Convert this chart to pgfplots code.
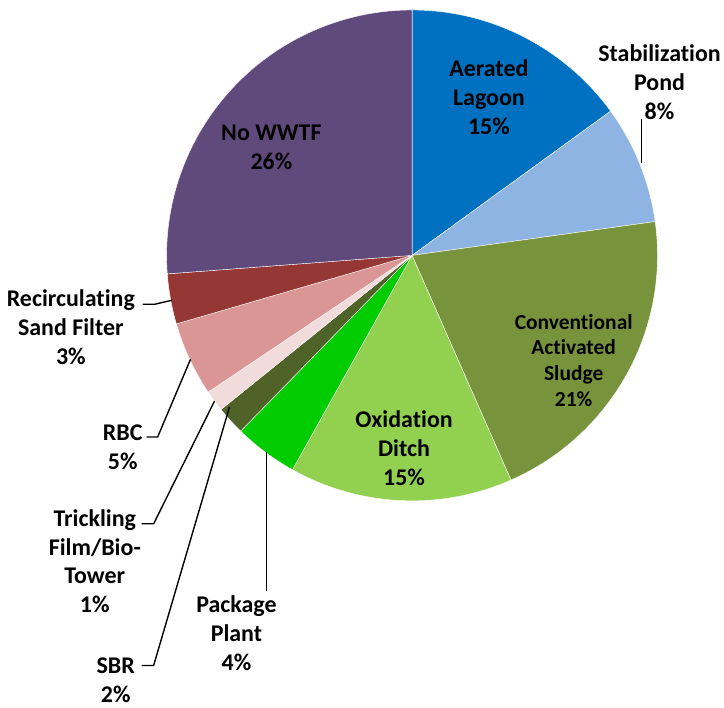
\documentclass[border=0pt]{standalone}
\usepackage{pgfplots}
\usepackage{pgfplotstable}
\pgfplotsset{compat=1.18}
\usepackage{fontspec}
\setmainfont{Carlito}[Ligatures=NoCommon]

\definecolor{cAL}{HTML}{0070C0}
\definecolor{cSP}{HTML}{8EB4E3}
\definecolor{cCAS}{HTML}{77933C}
\definecolor{cOD}{HTML}{92D050}
\definecolor{cPP}{HTML}{00CC00}
\definecolor{cSBR}{HTML}{4F6228}
\definecolor{cTF}{HTML}{F2DCDB}
\definecolor{cRBC}{HTML}{D99694}
\definecolor{cRSF}{HTML}{953735}
\definecolor{cNo}{HTML}{604A7B}

% share of each treatment type, clockwise from 12 o'clock
\pgfplotstableread[col sep=comma]{
value,color
15.0,cAL
7.8,cSP
20.6,cCAS
14.7,cOD
4.2,cPP
1.9,cSBR
1.4,cTF
4.9,cRBC
3.3,cRSF
26.2,cNo
}\piedata

\newcommand{\lab}{\fontsize{24bp}{29bp}\selectfont\bfseries}

\begin{document}
\begin{tikzpicture}
\begin{axis}[
    width=724bp, height=709bp,
    scale only axis,
    xmin=0, xmax=724, ymin=0, ymax=709,
    hide axis, clip=false,
]
\path (axis cs:0,0) rectangle (axis cs:724,709);

\pgfplotstablegetrowsof{\piedata}
\pgfmathtruncatemacro\nrows{\pgfplotsretval-1}
\def\cum{0}
\pgfplotsforeachungrouped \i in {0,...,\nrows}{
  \pgfplotstablegetelem{\i}{value}\of\piedata \let\v\pgfplotsretval
  \pgfplotstablegetelem{\i}{color}\of\piedata \let\c\pgfplotsretval
  \pgfmathsetmacro\a{90-3.6*\cum}
  \pgfmathsetmacro\b{90-3.6*(\cum+\v)}
  \edef\doit{\noexpand\fill[\c, draw=white, line width=0.4pt]
    (axis cs:413,453) -- ++(\a:246bp) arc[start angle=\a, end angle=\b, radius=246bp] -- cycle;}
  \doit
  \pgfmathsetmacro\cum{\cum+\v}
}

% leader lines
\draw[line width=1.4pt] (axis cs:643,590) -- (axis cs:643,546);
\draw[line width=1.4pt] (axis cs:267,256) -- (axis cs:267,117);
\draw[line width=1.4pt] (axis cs:142,42) -- (axis cs:154,42) -- (axis cs:230,301);
\draw[line width=1.4pt] (axis cs:142,184) -- (axis cs:154,184) -- (axis cs:215,307);
\draw[line width=1.4pt] (axis cs:147,271) -- (axis cs:158,271) -- (axis cs:191,349);
\draw[line width=1.4pt] (axis cs:143,404) -- (axis cs:155,404) -- (axis cs:172,408);

% labels
\node[align=center, font=\lab] at (axis cs:490,612) {Aerated\\Lagoon\\15\%};
\node[align=center, font=\lab] at (axis cs:661,627) {Stabilization\\Pond\\8\%};
\node[align=center, font=\fontsize{21.5bp}{25.7bp}\selectfont\bfseries] at (axis cs:575,348) {Conventional\\Activated\\Sludge\\21\%};
\node[align=center, font=\lab] at (axis cs:405,260) {Oxidation\\Ditch\\15\%};
\node[align=center, font=\lab] at (axis cs:272,561) {No WWTF\\26\%};
\node[align=center, font=\lab] at (axis cs:237,74) {Package\\Plant\\4\%};
\node[align=center, font=\lab] at (axis cs:116,27.5) {SBR\\2\%};
\node[align=center, font=\lab] at (axis cs:95,146.5) {Trickling\\Film/Bio-\\Tower\\1\%};
\node[align=center, font=\lab] at (axis cs:123,261) {RBC\\5\%};
\node[align=center, font=\lab] at (axis cs:71,381) {Recirculating\\Sand Filter\\3\%};
\end{axis}
\end{tikzpicture}
\end{document}
